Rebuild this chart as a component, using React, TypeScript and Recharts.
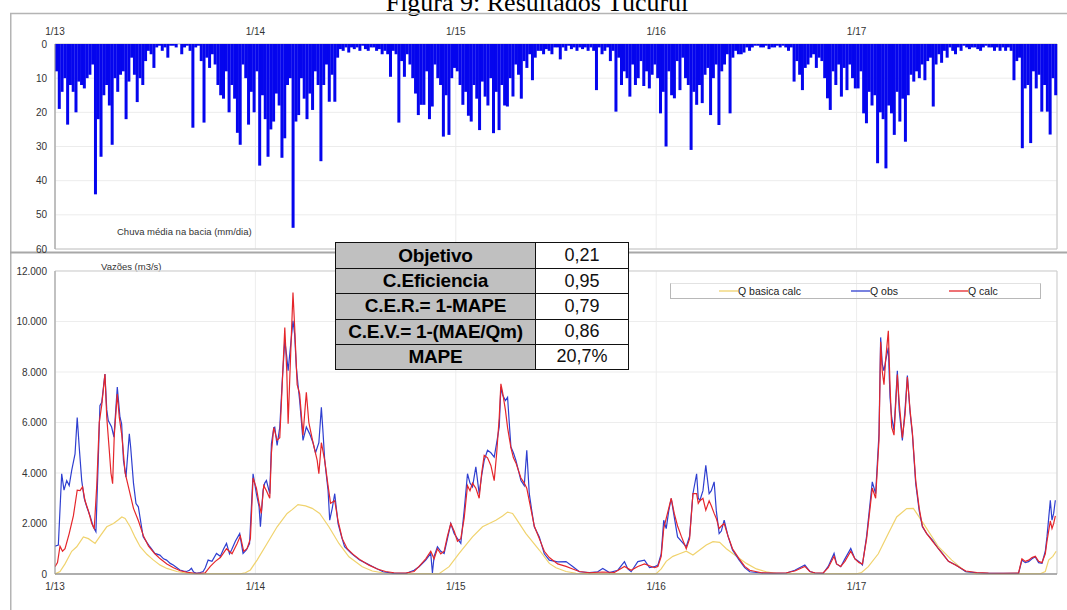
import React from 'react';
import {
  BarChart,
  Bar,
  LineChart,
  Line,
  XAxis,
  YAxis,
  CartesianGrid,
  ReferenceArea,
  Legend,
} from 'recharts';

// Time axis is in months counted from January 2013.
const yearTicks = [0, 12, 24, 36, 48];
const yearLabels = ['1/13', '1/14', '1/15', '1/16', '1/17'];

// Basin mean rainfall (mm/day), six ~5-day bins per month, Jan 2013 .. Dec 2017.
const rainByMonth: number[][] = [
  [8, 19, 14, 10, 23.6, 12],
  [14, 20, 11, 12, 13, 10],
  [9, 6, 44, 22, 33, 15],
  [12, 18, 29.5, 10, 14, 9],
  [8, 22, 11, 4, 9, 17],
  [10, 12, 5, 2, 3, 7],
  [1, 0.5, 2, 1, 4, 0.5],
  [0.5, 1, 0, 3, 1, 0.5],
  [2, 24.5, 1, 0.5, 5, 23],
  [4, 7, 3, 6, 12, 15],
  [16, 8, 20, 12, 16, 26],
  [29.5, 6, 10, 23.6, 14, 20],
  [8, 35.6, 15, 22, 33, 25],
  [22.7, 14.5, 18, 33.3, 27.6, 12],
  [10, 53.8, 22.7, 20.8, 10, 16],
  [22, 14.5, 19.3, 8, 12, 34.3],
  [12, 6, 16.9, 9, 16.9, 4],
  [1.5, 2, 1, 2.5, 1, 1.5],
  [1, 2, 0.5, 1.5, 2, 1],
  [1, 2, 1.5, 3, 2, 3],
  [9.6, 2, 3, 23, 5, 9.6],
  [3, 6, 10, 14.5, 20.8, 17.8],
  [17.8, 8, 22, 18.3, 6, 10],
  [12, 27.1, 15, 26.6, 10, 7],
  [8, 12, 17.8, 14, 21, 22.7],
  [12, 16, 25.2, 11, 15.4, 18],
  [10, 26.1, 14, 25.2, 12, 18],
  [18.3, 10, 15.4, 6, 9, 16],
  [5, 7, 3, 10.6, 4, 2],
  [2, 3, 1.5, 2, 3, 1],
  [1, 4.5, 1, 2, 0.5, 1.5],
  [1, 2, 1, 1.5, 1, 2],
  [1, 2, 13.5, 1, 3, 2],
  [1, 5, 2, 19.8, 4, 12],
  [8, 10, 15.4, 6, 12, 10],
  [5, 12.3, 8, 13, 9, 6],
  [10, 20.3, 14, 30, 8, 15],
  [15.9, 5, 13.5, 4, 10, 12],
  [31, 14, 17.8, 12, 17.3, 9],
  [7, 20.8, 10, 6, 23.7, 8],
  [6, 3, 20.3, 4, 2, 3],
  [3, 2.5, 1, 2, 1, 0.5],
  [0.5, 1, 1, 0.5, 1.5, 1],
  [1, 0.5, 1, 0.5, 1, 2],
  [1, 11, 5, 9, 13.5, 7],
  [6, 4, 3, 7, 4, 5],
  [10, 15.9, 19.3, 8, 12, 6],
  [15.4, 7, 13.5, 6, 10, 13],
  [13, 8, 20.3, 23.2, 14, 18],
  [15, 34.9, 20, 22, 36.4, 18],
  [20.3, 26.6, 14, 22.7, 16, 28.6],
  [15, 9, 11, 8, 10, 6],
  [10.6, 5, 4, 18.3, 6, 3],
  [5.5, 2, 4, 1, 2, 3],
  [1, 2, 0.5, 1, 1.5, 1],
  [1, 1.5, 2, 1, 0.5, 1],
  [1, 2, 1, 2, 1, 2],
  [1, 2, 10.6, 5, 4, 30.5],
  [13, 12, 29, 8, 13, 9],
  [19.8, 12, 19.8, 26.5, 10, 15],
];

// Observed discharge (m3/s): [month, value]
const qObs: [number, number][] = [
  [0, 1100], [0.2, 1150], [0.4, 3970], [0.54, 3320], [0.7, 3700], [0.85, 3500], [1.0, 4100], [1.2, 4760],
  [1.33, 6200], [1.45, 5030], [1.6, 3700], [1.75, 3000], [1.9, 2660], [2.1, 2300], [2.29, 1870], [2.45, 1670],
  [2.59, 4500], [2.69, 6670], [2.8, 6800], [2.99, 7920], [3.1, 6500], [3.19, 6080], [3.39, 5820], [3.53, 5420],
  [3.73, 7400], [3.89, 6210], [3.99, 5950], [4.1, 4500], [4.25, 3840], [4.45, 5550], [4.53, 5030], [4.7, 3600],
  [4.85, 2790], [4.99, 2660], [5.15, 2000], [5.28, 1470], [5.5, 1250], [5.68, 1080], [5.98, 815], [6.28, 750],
  [6.5, 600], [6.68, 550], [6.9, 420], [7.08, 355], [7.3, 250], [7.48, 160], [7.7, 120], [7.88, 100],
  [8.05, 150], [8.17, 225], [8.3, 80], [8.47, 30], [8.7, 60], [8.87, 100], [9.0, 250], [9.17, 550],
  [9.4, 500], [9.67, 815], [9.9, 700], [10.1, 1000], [10.27, 1210], [10.45, 800], [10.57, 950], [10.8, 1300],
  [11.06, 1600], [11.26, 815], [11.46, 950], [11.65, 1200], [11.86, 3970], [12.06, 3180], [12.22, 2660], [12.3, 1870],
  [12.46, 3320], [12.56, 3600], [12.66, 3700], [12.86, 3180], [12.96, 5160], [13.1, 5800], [13.16, 5820], [13.3, 5090],
  [13.46, 5820], [13.62, 7790], [13.76, 9240], [13.88, 8600], [13.96, 8050], [14.1, 9000], [14.25, 10030], [14.35, 9500],
  [14.45, 8200], [14.55, 7500], [14.65, 6870], [14.85, 5290], [15.05, 5820], [15.25, 5550], [15.45, 5200], [15.6, 4800],
  [15.8, 5200], [15.95, 6600], [16.05, 5600], [16.15, 4500], [16.35, 3320], [16.45, 2130], [16.6, 2600], [16.75, 3180],
  [16.95, 1990], [17.15, 1500], [17.34, 1080], [17.74, 815], [18.24, 550], [18.7, 400], [19.04, 290], [19.64, 90],
  [20.24, 30], [21.04, 30], [21.5, 150], [21.8, 290], [22.2, 550], [22.5, 815], [22.6, 40], [22.7, 700],
  [22.9, 1080], [23.1, 900], [23.3, 815], [23.5, 1400], [23.7, 2000], [23.9, 1600], [24.1, 1400], [24.3, 1210],
  [24.5, 2500], [24.7, 3970], [24.85, 3600], [25.0, 3450], [25.2, 4240], [25.4, 3180], [25.55, 3900], [25.7, 4500],
  [25.9, 4900], [26.1, 4800], [26.3, 4630], [26.45, 5200], [26.6, 5820], [26.7, 7400], [26.8, 7100], [26.97, 6870],
  [27.1, 7000], [27.2, 6000], [27.3, 5030], [27.45, 4800], [27.6, 4500], [27.9, 3700], [28.1, 3500], [28.25, 4900],
  [28.4, 3180], [28.55, 2500], [28.7, 1870], [29.0, 1470], [29.3, 800], [29.6, 550], [30.1, 480], [30.6, 490],
  [31.0, 300], [31.4, 90], [32.0, 60], [32.5, 90], [32.8, 220], [33.2, 60], [33.7, 150], [34.1, 490],
  [34.3, 200], [34.5, 90], [34.9, 490], [35.3, 550], [35.6, 250], [35.9, 290], [36.1, 350], [36.3, 800],
  [36.45, 2130], [36.6, 1800], [36.75, 2500], [36.9, 2990], [37.08, 2260], [37.28, 1470], [37.5, 1300], [37.8, 1080],
  [38.0, 1500], [38.2, 3180], [38.42, 3970], [38.52, 3000], [38.62, 2920], [38.8, 3300], [38.97, 4300], [39.17, 3180],
  [39.3, 3300], [39.47, 3650], [39.6, 2500], [39.77, 1600], [39.9, 1700], [40.07, 2130], [40.3, 1500], [40.57, 950],
  [40.97, 550], [41.3, 250], [41.6, 90], [42.3, 40], [43.0, 30], [43.8, 40], [44.3, 150], [44.9, 355],
  [45.2, 100], [45.5, 40], [46.0, 30], [46.3, 300], [46.65, 815], [46.8, 400], [47.05, 290], [47.3, 600],
  [47.65, 1010], [47.9, 600], [48.15, 490], [48.35, 355], [48.6, 1500], [48.94, 3650], [49.14, 3180], [49.34, 5550],
  [49.44, 9370], [49.54, 8300], [49.64, 8050], [49.74, 8450], [49.9, 8970], [50.0, 7000], [50.1, 6210], [50.24, 5690],
  [50.44, 8050], [50.55, 6500], [50.74, 5290], [50.9, 6500], [51.04, 7860], [51.2, 6400], [51.34, 5550], [51.54, 3580],
  [51.75, 2500], [51.94, 1870], [52.2, 1600], [52.54, 1340], [52.9, 1000], [53.14, 815], [53.5, 500], [53.94, 355],
  [54.54, 90], [55.2, 50], [55.9, 30], [56.8, 30], [57.7, 30], [57.9, 550], [58.1, 450], [58.3, 490],
  [58.5, 600], [58.7, 680], [58.9, 450], [59.1, 420], [59.3, 900], [59.4, 1470], [59.6, 2920], [59.7, 2130],
  [59.8, 2400], [59.9, 2920],
];

// Simulated discharge (m3/s): [month, value]
const qCalc: [number, number][] = [
  [0, 290], [0.15, 450], [0.3, 1100], [0.45, 900], [0.6, 1000], [0.85, 1600], [1.1, 2300], [1.33, 3320],
  [1.5, 3300], [1.65, 3450], [1.8, 2900], [2.0, 2500], [2.2, 2000], [2.35, 1800], [2.5, 3500], [2.65, 6000],
  [2.8, 6700], [2.99, 7920], [3.1, 6200], [3.25, 4900], [3.35, 4000], [3.45, 3580], [3.55, 5500], [3.73, 7130],
  [3.85, 6200], [4.0, 5500], [4.2, 4000], [4.45, 3300], [4.7, 2600], [5.0, 2100], [5.3, 1500], [5.6, 1100],
  [5.98, 800], [6.3, 600], [6.7, 400], [7.1, 250], [7.5, 130], [7.9, 70], [8.3, 40], [8.7, 30],
  [9.0, 50], [9.3, 300], [9.6, 500], [9.9, 650], [10.27, 1000], [10.6, 800], [10.9, 1200], [11.1, 1500],
  [11.3, 900], [11.5, 1000], [11.7, 1400], [11.86, 3800], [12.06, 3400], [12.22, 2800], [12.35, 2400], [12.5, 3500],
  [12.66, 3300], [12.86, 3000], [12.96, 4800], [13.1, 5800], [13.3, 5300], [13.46, 5400], [13.62, 7700], [13.76, 9760],
  [13.88, 8000], [13.96, 5950], [14.1, 8500], [14.25, 11150], [14.35, 9800], [14.5, 7500], [14.65, 7130], [14.85, 5500],
  [15.05, 7200], [15.2, 6000], [15.45, 5200], [15.7, 4500], [15.8, 3970], [15.95, 5200], [16.15, 4500], [16.35, 3500],
  [16.5, 2800], [16.75, 2900], [16.95, 2100], [17.2, 1400], [17.5, 1000], [17.9, 750], [18.3, 550], [18.8, 350],
  [19.3, 200], [19.8, 100], [20.3, 50], [21.0, 40], [21.5, 100], [21.8, 300], [22.2, 600], [22.5, 900],
  [22.7, 600], [22.9, 1000], [23.1, 800], [23.3, 900], [23.5, 1500], [23.7, 2000], [23.9, 1700], [24.1, 1300],
  [24.3, 1400], [24.5, 2200], [24.7, 3500], [24.85, 3300], [25.0, 3600], [25.2, 3400], [25.4, 3000], [25.55, 4000],
  [25.7, 4700], [25.9, 4600], [26.1, 4300], [26.3, 3700], [26.45, 4800], [26.6, 6200], [26.7, 7530], [26.8, 7200],
  [26.97, 6500], [27.1, 5800], [27.3, 5000], [27.45, 4600], [27.6, 4400], [27.9, 3800], [28.1, 3600], [28.25, 3400],
  [28.4, 2900], [28.55, 2400], [28.7, 1900], [29.0, 1400], [29.3, 900], [29.6, 650], [30.1, 400], [30.6, 300],
  [31.0, 200], [31.4, 100], [32.0, 50], [32.8, 80], [33.5, 60], [34.1, 300], [34.5, 150], [34.9, 300],
  [35.3, 400], [35.9, 250], [36.1, 300], [36.3, 700], [36.45, 1800], [36.6, 2200], [36.75, 2600], [36.9, 3000],
  [37.08, 2400], [37.28, 1900], [37.5, 1500], [37.8, 1000], [38.0, 1400], [38.2, 3180], [38.42, 3180], [38.52, 2800],
  [38.62, 2900], [38.8, 3000], [38.97, 2530], [39.17, 2900], [39.3, 2700], [39.47, 2400], [39.6, 2200], [39.77, 1800],
  [39.9, 1900], [40.07, 2000], [40.3, 1500], [40.57, 1000], [40.97, 600], [41.3, 300], [41.6, 150], [42.3, 50],
  [43.0, 40], [43.8, 50], [44.3, 120], [44.9, 300], [45.2, 100], [45.5, 50], [46.0, 40], [46.3, 250],
  [46.65, 700], [46.8, 400], [47.05, 300], [47.3, 500], [47.65, 900], [47.9, 600], [48.15, 450], [48.35, 400],
  [48.6, 1400], [48.94, 3400], [49.14, 3000], [49.34, 5300], [49.44, 9200], [49.54, 8000], [49.64, 7500], [49.74, 8500],
  [49.9, 9630], [50.0, 7500], [50.1, 5820], [50.24, 5500], [50.44, 7900], [50.55, 6800], [50.74, 5400], [50.9, 6300],
  [51.04, 7800], [51.2, 6500], [51.34, 5600], [51.54, 3700], [51.75, 2600], [51.94, 1900], [52.2, 1600], [52.54, 1300],
  [52.9, 1000], [53.14, 800], [53.5, 500], [53.94, 350], [54.54, 120], [55.2, 60], [55.9, 40], [56.8, 30],
  [57.7, 40], [57.9, 600], [58.1, 500], [58.3, 550], [58.5, 650], [58.7, 700], [58.9, 500], [59.1, 450],
  [59.3, 800], [59.4, 1300], [59.6, 2100], [59.7, 1800], [59.8, 2000], [59.9, 2300],
];

// Simulated base flow (m3/s): [month, value]
const qBase: [number, number][] = [
  [0, 0], [0.3, 100], [0.6, 400], [1.0, 900], [1.3, 1080], [1.7, 1470], [2.0, 1400], [2.4, 1210],
  [2.7, 1500], [3.1, 1870], [3.5, 2000], [3.8, 2150], [4.0, 2260], [4.2, 2200], [4.5, 1870], [4.8, 1450],
  [5.1, 1080], [5.5, 780], [5.9, 550], [6.3, 350], [6.7, 220], [7.3, 100], [7.9, 30], [8.5, 10],
  [11.1, 10], [11.4, 50], [11.7, 160], [12.1, 550], [12.7, 1210], [13.3, 1870], [13.9, 2400], [14.2, 2550],
  [14.55, 2750], [15.0, 2700], [15.4, 2600], [15.85, 2400], [16.4, 1870], [17.0, 1210], [17.6, 680], [18.4, 290],
  [19.0, 120], [19.6, 50], [20.5, 10], [23.0, 10], [23.6, 290], [24.2, 815], [25.0, 1470], [25.6, 1870],
  [26.0, 2000], [26.4, 2130], [26.8, 2300], [27.1, 2450], [27.4, 2400], [27.6, 2200], [28.2, 1600], [29.0, 950],
  [29.6, 420], [30.0, 250], [30.6, 100], [31.2, 30], [32.0, 10], [36.0, 10], [36.3, 200], [36.6, 500],
  [37.0, 700], [37.4, 800], [37.8, 900], [38.2, 750], [38.6, 950], [39.0, 1150], [39.4, 1280], [39.8, 1250],
  [40.2, 1000], [40.6, 800], [41.4, 420], [42.0, 200], [42.6, 90], [43.2, 20], [48.0, 10], [48.3, 60],
  [48.7, 290], [49.3, 800], [49.9, 1600], [50.4, 2260], [51.0, 2590], [51.4, 2600], [51.7, 2300], [52.2, 1800],
  [52.9, 1080], [53.7, 550], [54.5, 100], [55.2, 10], [59.0, 10], [59.3, 100], [59.5, 550], [59.75, 700],
  [59.95, 900],
];

const metricNames = ['Objetivo', 'C.Eficiencia', 'C.E.R.= 1-MAPE', 'C.E.V.= 1-(MAE/Qm)', 'MAPE'];
const metricValues = ['0,21', '0,95', '0,79', '0,86', '20,7%'];

const rainTicks = [0, 10, 20, 30, 40, 50, 60];
const flowTicks = [0, 2000, 4000, 6000, 8000, 10000, 12000];

const COLORS = {
  rain: '#0505ee',
  base: '#f0d36e',
  obs: '#2f3fd0',
  calc: '#e5262b',
};

// series names, in legend order
const legendItems = [
  { name: 'Q basica calc', color: COLORS.base, left: 48 },
  { name: 'Q obs', color: COLORS.obs, left: 180 },
  { name: 'Q calc', color: COLORS.calc, left: 278 },
];

const FONT = '"Liberation Sans", Arial, sans-serif';

const rainData = rainByMonth.flatMap((row, m) =>
  row.map((v, k) => ({ t: m + (k + 0.5) / row.length, rain: v }))
);
const toSeries = (pts: [number, number][]) => pts.map(([t, q]) => ({ t, q }));
const obsData = toSeries(qObs);
const calcData = toSeries(qCalc);
const baseData = toSeries(qBase);

const yearFormatter = (v: number) => yearLabels[yearTicks.indexOf(v)] ?? '';
const thousands = (v: number) => v.toLocaleString('de-DE');

const tickStyle = { fontSize: 10, fill: '#333', fontFamily: FONT };

const renderLegend = () => (
  <div
    style={{
      position: 'relative',
      width: 371,
      height: 16,
      boxSizing: 'border-box',
      borderLeft: '1px solid #b8b8b8',
      borderRight: '1px solid #b8b8b8',
      borderBottom: '1px solid #b8b8b8',
      borderTop: '1px solid #e2e2e2',
      fontFamily: FONT,
      fontSize: 10.5,
      color: '#222',
    }}
  >
    {legendItems.map((p) => (
      <div
        key={p.name}
        style={{ position: 'absolute', left: p.left, top: 0, height: 14, display: 'flex', alignItems: 'center', whiteSpace: 'nowrap' }}
      >
        <svg width={19} height={4} style={{ display: 'block' }}>
          <line x1={0} y1={2} x2={19} y2={2} stroke={p.color} strokeWidth={1.3} />
        </svg>
        <span>{p.name}</span>
      </div>
    ))}
  </div>
);

export default function App() {
  return (
    <div style={{ position: 'absolute', left: 0, top: 0, width: 1067, height: 610, background: '#fff', overflow: 'hidden' }}>
      <svg width={1067} height={610} style={{ position: 'absolute', left: 0, top: 0 }}>
        <text x={537} y={10.5} textAnchor="middle" fontFamily='"Liberation Serif", "Times New Roman", serif' fontSize={26} fill="#000">
          Figura 9: Resultados Tucuruí
        </text>
        <line x1={10} y1={13.5} x2={1067} y2={13.5} stroke="#b4b4b4" strokeWidth={1.5} />
        <line x1={10.75} y1={13} x2={10.75} y2={610} stroke="#b4b4b4" strokeWidth={1.5} />
        <line x1={10} y1={252.5} x2={1067} y2={252.5} stroke="#a8a8a8" strokeWidth={2} />
        <text x={117} y={235} fontFamily={FONT} fontSize={9.5} fill="#333">Chuva média na bacia (mm/dia)</text>
        <text x={101} y={270} fontFamily={FONT} fontSize={9.5} fill="#333">Vazões (m3/s)</text>
      </svg>

      <div style={{ position: 'absolute', left: 0, top: 0 }}>
        <BarChart
          width={1067}
          height={260}
          data={rainData}
          margin={{ top: 24, right: 10, bottom: 11, left: 10 }}
          barCategoryGap={0}
          barGap={0}
        >
          <CartesianGrid stroke="#ececec" xAxisId="time" />
          <XAxis xAxisId="bins" dataKey="t" type="category" hide />
          <XAxis
            xAxisId="time"
            dataKey="t"
            type="number"
            orientation="top"
            domain={[0, 60]}
            ticks={yearTicks}
            tickFormatter={yearFormatter}
            height={20}
            axisLine={false}
            tickLine={false}
            tickSize={0}
            tickMargin={9}
            tick={tickStyle}
            allowDataOverflow
          />
          <YAxis
            reversed
            domain={[0, 60]}
            ticks={rainTicks}
            width={45}
            axisLine={{ stroke: '#a0a0a0' }}
            tickLine={false}
            tickSize={0}
            tickMargin={8}
            tick={tickStyle}
            interval={0}
          />
          <ReferenceArea xAxisId="time" x1={0} x2={60} y1={0} y2={60} fill="none" stroke="#c4c4c4" strokeWidth={1} />
          <Bar xAxisId="bins" dataKey="rain" fill={COLORS.rain} isAnimationActive={false} />
        </BarChart>
      </div>

      <div style={{ position: 'absolute', left: 0, top: 255 }}>
        <LineChart width={1067} height={355} margin={{ top: 16, right: 10, bottom: 16, left: 10 }}>
          <CartesianGrid stroke="#ededed" />
          <XAxis
            dataKey="t"
            type="number"
            domain={[0, 60]}
            ticks={yearTicks}
            tickFormatter={yearFormatter}
            height={20}
            axisLine={{ stroke: '#7a7a7a' }}
            tickLine={false}
            tickSize={0}
            tickMargin={9}
            tick={tickStyle}
            allowDataOverflow
          />
          <YAxis
            domain={[0, 12000]}
            ticks={flowTicks}
            tickFormatter={thousands}
            width={45}
            axisLine={{ stroke: '#a0a0a0' }}
            tickLine={false}
            tickSize={0}
            tickMargin={8}
            tick={tickStyle}
            interval={0}
          />
          <ReferenceArea x1={0} x2={60} y1={0} y2={12000} fill="none" stroke="#cfcfcf" strokeWidth={1} />
          <Legend
            layout="horizontal"
            verticalAlign="middle"
            align="center"
            content={renderLegend}
            wrapperStyle={{ position: 'absolute', left: 670, top: 28, width: 371, height: 16 }}
          />
          <Line data={baseData} dataKey="q" name="Q basica calc" stroke={COLORS.base} strokeWidth={1.2} dot={false} isAnimationActive={false} />
          <Line data={obsData} dataKey="q" name="Q obs" stroke={COLORS.obs} strokeWidth={1.2} dot={false} isAnimationActive={false} />
          <Line data={calcData} dataKey="q" name="Q calc" stroke={COLORS.calc} strokeWidth={1.2} dot={false} isAnimationActive={false} />
        </LineChart>
      </div>

      <div
        style={{
          position: 'absolute',
          left: 335,
          top: 242,
          width: 294,
          border: '1.5px solid #111',
          boxSizing: 'border-box',
          fontFamily: FONT,
          background: '#fff',
        }}
      >
        {metricNames.map((name, i) => (
          <div key={name} style={{ display: 'flex', height: 25.2, borderTop: i === 0 ? 'none' : '1.5px solid #111', boxSizing: 'border-box' }}>
            <div
              style={{
                width: 200,
                background: '#c0c0c0',
                borderRight: '1.5px solid #111',
                boxSizing: 'border-box',
                display: 'flex',
                alignItems: 'center',
                justifyContent: 'center',
                fontWeight: 'bold',
                fontSize: 19,
                letterSpacing: -0.2,
                color: '#000',
                whiteSpace: 'nowrap',
              }}
            >
              {name}
            </div>
            <div
              style={{
                flex: 1,
                display: 'flex',
                alignItems: 'center',
                justifyContent: 'center',
                fontSize: 18,
                color: '#111',
              }}
            >
              {metricValues[i]}
            </div>
          </div>
        ))}
      </div>
    </div>
  );
}
